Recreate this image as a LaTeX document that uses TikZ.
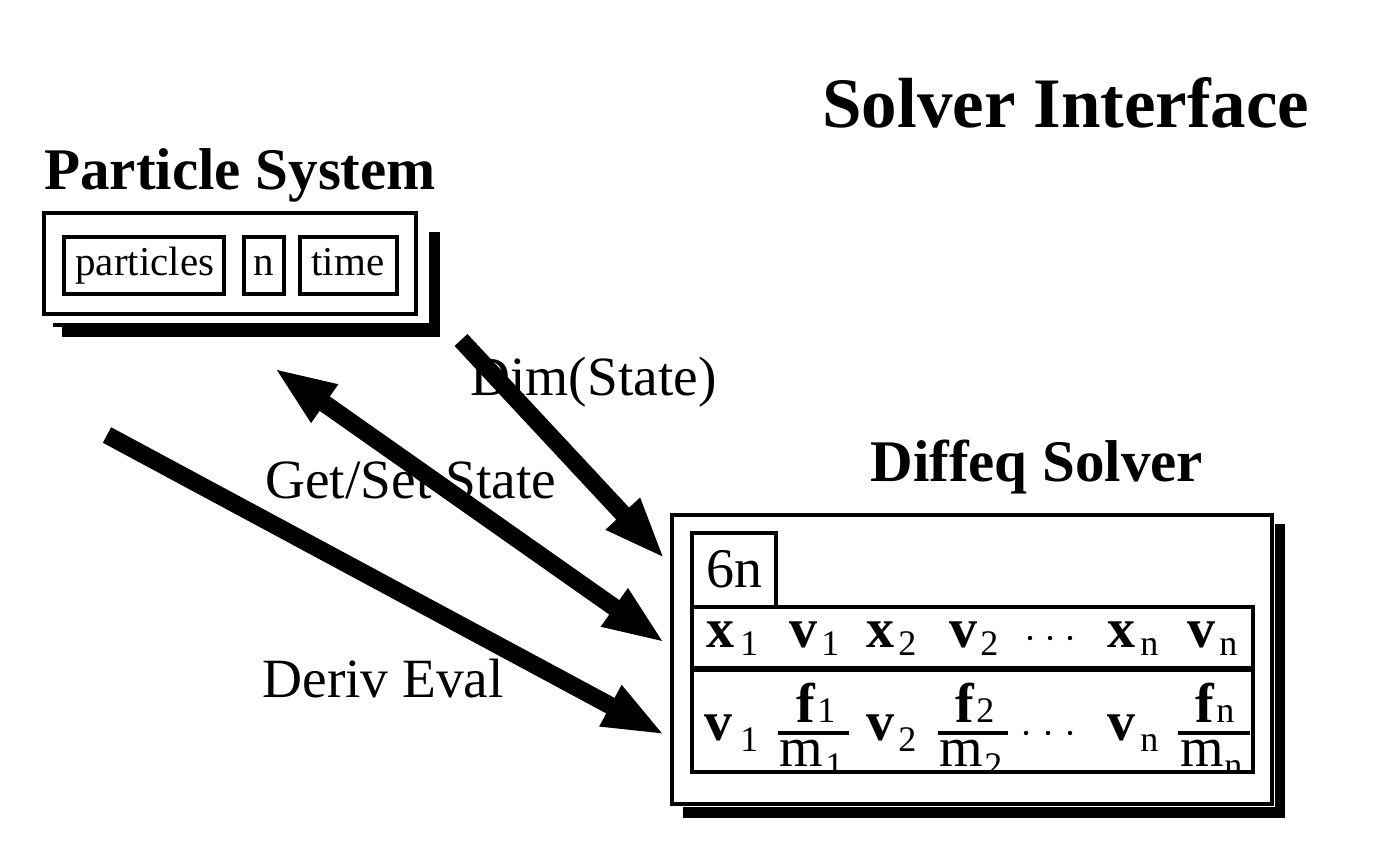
\documentclass[tikz,border=0pt]{standalone}
\usepackage{fontspec}
\setmainfont{Liberation Serif}
\usetikzlibrary{arrows.meta,fit}

\tikzset{
  fatarrow/.style={line width=8.8pt, -{Triangle[length=31pt,width=21pt]}},
  fatdbl/.style={line width=8.8pt, {Triangle[length=31pt,width=21pt]}-{Triangle[length=31pt,width=21pt]}},
  outerbox/.style={draw, line width=2.3pt, fill=white, inner sep=0pt},
  cellbox/.style={draw, line width=2pt, inner sep=0pt},
  txt/.style={inner sep=0pt, anchor=base west},
  shadowfill/.style={fill=black},
  fracline/.style={line width=2.2pt},
}
\newcommand\ttlfont{\fontsize{35.5}{40}\selectfont\bfseries}
\newcommand\hdfont{\fontsize{29.5}{34}\selectfont\bfseries}
\newcommand\lblfont{\fontsize{27.7}{32}\selectfont}
\newcommand\cellfont{\fontsize{20.5}{24}\selectfont}
\newcommand\mainfont{\fontsize{28}{32}\selectfont}
\newcommand\subfont{\fontsize{18}{20}\selectfont}

\begin{document}
\begin{tikzpicture}[x=0.5pt,y=-0.5pt]
\useasboundingbox (0,0) rectangle (1376,866);

% ---------- titles
\node[txt] (title) at (822,128) {\ttlfont Solver Interface};
\node[txt] (pstitle) at (44,190) {\hdfont Particle System};
\node[txt] (dstitle) at (870,481) {\hdfont Diffeq Solver};

% ---------- Particle System box
\fill[shadowfill] (62,232) rectangle (440,337);
\fill[shadowfill] (53,323) rectangle (62,327);
\fill[white] (38,207) rectangle (429,323);
\node[outerbox, fit={(44,213) (416,314)}] (ps) {};
\node[cellbox, fit={(64,237) (224,294)}] (pcell) {};
\node[cellbox, fit={(244,237) (284,294)}] (ncell) {};
\node[cellbox, fit={(300,237) (397,294)}] (tcell) {};
\node[txt] (ptxt) at (75,276) {\cellfont particles};
\node[txt] (ntxt) at (253,276) {\cellfont n};
\node[txt] (ttxt) at (311,276) {\cellfont time};

% ---------- Diffeq Solver box
\fill[shadowfill] (683,524) rectangle (1285,818);
\fill[white] (668,511) rectangle (1275,807);
\node[outerbox, fit={(672,515) (1272,804)}] (ds) {};
\node[cellbox, fit={(692,533) (776,607)}] (sixn) {};
\node[cellbox, fit={(692,607) (1253,670)}] (row1) {};
\node[cellbox, fit={(692,670) (1253,772)}] (row2) {};
\draw[line width=2pt] (row2.north west) -- ++(565,0);
\node[txt] (sixntxt) at (706,587) {\mainfont 6n};

% row 1
\node[txt] (a1) at (706,647) {\mainfont\bfseries x};
\node[txt] (a1s) at (740,655) {\subfont 1};
\node[txt] (a2) at (789,647) {\mainfont\bfseries v};
\node[txt] (a2s) at (821,655) {\subfont 1};
\node[txt] (a3) at (866,647) {\mainfont\bfseries x};
\node[txt] (a3s) at (898,655) {\subfont 2};
\node[txt] (a4) at (949,647) {\mainfont\bfseries v};
\node[txt] (a4s) at (980,655) {\subfont 2};
\node[txt] (a5) at (1107,647) {\mainfont\bfseries x};
\node[txt] (a5s) at (1140,655) {\subfont n};
\node[txt] (a6) at (1187,647) {\mainfont\bfseries v};
\node[txt] (a6s) at (1219,655) {\subfont n};
\foreach \dx in {1030,1050,1070} \fill (\dx,638) circle (2.2);

% row 2
\node[txt] (b1) at (704,740) {\mainfont\bfseries v};
\node[txt] (b1s) at (740,751) {\subfont 1};
\node[txt] (b3) at (866,740) {\mainfont\bfseries v};
\node[txt] (b3s) at (898,751) {\subfont 2};
\node[txt] (b5) at (1107,740) {\mainfont\bfseries v};
\node[txt] (b5s) at (1140,751) {\subfont n};
\foreach \dx in {1026,1048,1070} \fill (\dx,733) circle (2.2);
% fractions
\draw[fracline] (778,733) -- (849,733);
\draw[fracline] (938,733) -- (1008,733);
\draw[fracline] (1178,733) -- (1250,733);
\node[txt] (f1) at (796,722) {\mainfont\bfseries f};
\node[txt] (f1s) at (817,722) {\subfont 1};
\node[txt] (f2) at (955,722) {\mainfont\bfseries f};
\node[txt] (f2s) at (976,722) {\subfont 2};
\node[txt] (f3) at (1195,722) {\mainfont\bfseries f};
\node[txt] (f3s) at (1216,722) {\subfont n};
\begin{scope}
  \clip (690,736) rectangle (1256,771);
  \node[txt] (m1) at (779,766) {\mainfont m};
  \node[txt] (m1s) at (825,777) {\subfont 1};
  \node[txt] (m2) at (939,766) {\mainfont m};
  \node[txt] (m2s) at (984,777) {\subfont 2};
  \node[txt] (m3) at (1180,766) {\mainfont m};
  \node[txt] (m3s) at (1224,777) {\subfont n};
\end{scope}

% ---------- labels
\node[txt] (dimlbl) at (470,395) {\lblfont Dim(State)};
\node[txt] (getlbl) at (265,498) {\lblfont Get/Set State};
\node[txt] (derlbl) at (262,697) {\lblfont Deriv Eval};

% ---------- arrows
\coordinate (dimS) at (461,340);
\coordinate (dimE) at (665,559);
\coordinate (getS) at (274,368);
\coordinate (getE) at (665,643);
\coordinate (derS) at (107,435);
\coordinate (derE) at (665,735);
\draw[fatarrow] (dimS) -- (dimE);
\draw[fatdbl] (getS) -- (getE);
\draw[fatarrow] (derS) -- (derE);
\end{tikzpicture}
\end{document}
